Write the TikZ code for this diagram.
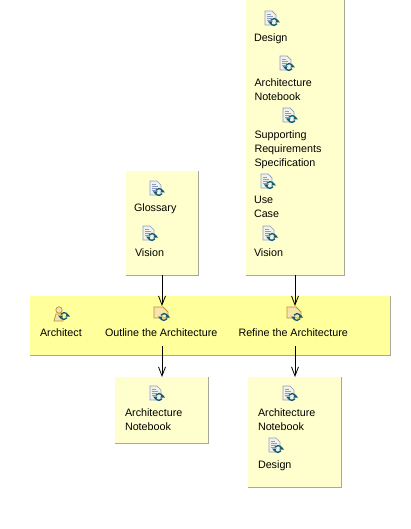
\documentclass[tikz,border=0pt]{standalone}
\usepackage{fontspec}
\setmainfont{Liberation Sans}
\usetikzlibrary{arrows.meta}
\definecolor{boxfill}{HTML}{FFFFCE}
\definecolor{lanefill}{HTML}{FFFF9C}
\definecolor{edgegray}{HTML}{A8A898}
\definecolor{docline}{HTML}{8C9CC0}
\definecolor{docfill}{HTML}{F2F2EA}
\definecolor{syncteal}{HTML}{0F5C70}
\definecolor{rolecol}{HTML}{B89040}
\definecolor{rolefill}{HTML}{F8E4A8}
\tikzset{
  x=1pt,y=-1pt,
  panel/.style={anchor=north west,inner sep=0pt,outer sep=0pt,fill=boxfill},
  lane/.style={anchor=north west,inner sep=0pt,outer sep=0pt,fill=lanefill},
  shade/.style={draw=edgegray,line width=1pt},
  label/.style={anchor=north west,inner sep=0pt,outer sep=0pt,yshift=-1.8pt,font=\fontsize{10.75pt}{14pt}\selectfont,align=left,text=black},
  iconspot/.style={inner sep=0pt,outer sep=0pt,minimum size=16pt},
  flow/.style={draw=black,line width=0.9pt,-{Straight Barb[length=9pt,width=7pt,line width=0.8pt]}},
  pics/syncmark/.style={code={
    \draw[syncteal,line width=1.3pt] (3.5,0) arc[start angle=0,end angle=-150,radius=3.5];
    \draw[syncteal,line width=1.3pt] (-3.5,0) arc[start angle=180,end angle=30,radius=3.5];
    \fill[syncteal] (-6,-0.5) -- (-1.5,-0.5) -- (-3.5,2.5) -- cycle;
    \fill[syncteal] (6,0.5) -- (1.5,0.5) -- (3.5,-2.5) -- cycle;
  }},
  pics/docicon/.style={code={
    \draw[docline,fill=docfill,line width=0.7pt] (-6,-8) -- (1,-8) -- (5,-4) -- (5,6) -- (-6,6) -- cycle;
    \draw[docline,line width=0.6pt] (-4,-5) -- (0,-5) (-4,-3) -- (2,-3) (-4,-1) -- (1,-1) (-4,1) -- (0,1);
    \pic at (3,3) {syncmark};
  }},
  pics/roleicon/.style={code={
    \draw[rolecol,fill=rolefill,line width=0.7pt] (-2,-4) circle[radius=3.2];
    \draw[rolecol,fill=rolefill,line width=0.7pt] (-7,7) -- (-5,0) -- (1,0) -- (2,7) -- cycle;
    \pic at (3,2) {syncmark};
  }},
  pics/acticon/.style={code={
    \draw[rolecol,fill=rolefill,line width=0.8pt] (-8,-7) -- (1,-7) -- (6,-2) -- (6,4) -- (-8,4) -- cycle;
    \pic at (2,3) {syncmark};
  }},
}
\begin{document}
\begin{tikzpicture}
\useasboundingbox (0,0) rectangle (411,529);
\fill[white] (0,0) rectangle (411,529);

% panels
\node[panel,minimum width=98pt,minimum height=275pt] (inR) at (246,0) {};
\draw[shade] (inR.north east) -- (inR.south east) -- (inR.south west);
\node[panel,minimum width=72pt,minimum height=104pt] (inL) at (126,171) {};
\draw[shade] (inL.north east) -- (inL.south east) -- (inL.south west);
\node[lane,minimum width=360pt,minimum height=59pt] (laneBox) at (30,296) {};
\draw[shade] (laneBox.north east) -- (laneBox.south east) -- (laneBox.south west);
\node[panel,minimum width=93pt,minimum height=66pt] (outL) at (115,377) {};
\draw[shade] (outL.north east) -- (outL.south east) -- (outL.south west);
\node[panel,minimum width=93pt,minimum height=110pt] (outR) at (248,377) {};
\draw[shade] (outR.north east) -- (outR.south east) -- (outR.south west);

% right input panel
\node[iconspot] (i1) at (271,19) {}; \pic at (i1) {docicon};
\node[label] (t1) at (254,31.5) {Design};
\node[iconspot] (i2) at (286,64) {}; \pic at (i2) {docicon};
\node[label] (t2) at (254.5,76.5) {Architecture\\Notebook};
\node[iconspot] (i3) at (289,116) {}; \pic at (i3) {docicon};
\node[label] (t3) at (254.5,128.5) {Supporting\\Requirements\\Specification};
\node[iconspot] (i4) at (267,182) {}; \pic at (i4) {docicon};
\node[label] (t4) at (254,194.5) {Use\\Case};
\node[iconspot] (i5) at (269,234) {}; \pic at (i5) {docicon};
\node[label] (t5) at (254,246.5) {Vision};

% left input panel
\node[iconspot] (i6) at (156,189) {}; \pic at (i6) {docicon};
\node[label] (t6) at (134,201.5) {Glossary};
\node[iconspot] (i7) at (149,234) {}; \pic at (i7) {docicon};
\node[label] (t7) at (135,246.5) {Vision};

% lane
\node[iconspot] (role) at (61,314) {}; \pic at (role) {roleicon};
\node[label] (t8) at (40,326.5) {Architect};
\node[iconspot] (act1) at (162,314) {}; \pic at (act1) {acticon};
\node[label] (t9) at (105,326.5) {Outline the Architecture};
\node[iconspot] (act2) at (295,314) {}; \pic at (act2) {acticon};
\node[label] (t10) at (238.5,326.5) {Refine the Architecture};

% bottom left
\node[iconspot] (i8) at (156,394) {}; \pic at (i8) {docicon};
\node[label] (t11) at (125,406.5) {Architecture\\Notebook};

% bottom right
\node[iconspot] (i9) at (289,394) {}; \pic at (i9) {docicon};
\node[label] (t12) at (258,406.5) {Architecture\\Notebook};
\node[iconspot] (i10) at (275,446) {}; \pic at (i10) {docicon};
\node[label] (t13) at (258,458.5) {Design};

% connectors
\coordinate (laneOutL) at (162,346);
\coordinate (laneOutR) at (295,346);
\draw[flow] (inL.south -| act1) -- (act1.north);
\draw[flow] (inR.south -| act2) -- (act2.north);
\draw[flow] (laneOutL) -- (laneOutL |- outL.north);
\draw[flow] (laneOutR) -- (laneOutR |- outR.north);
\end{tikzpicture}
\end{document}
